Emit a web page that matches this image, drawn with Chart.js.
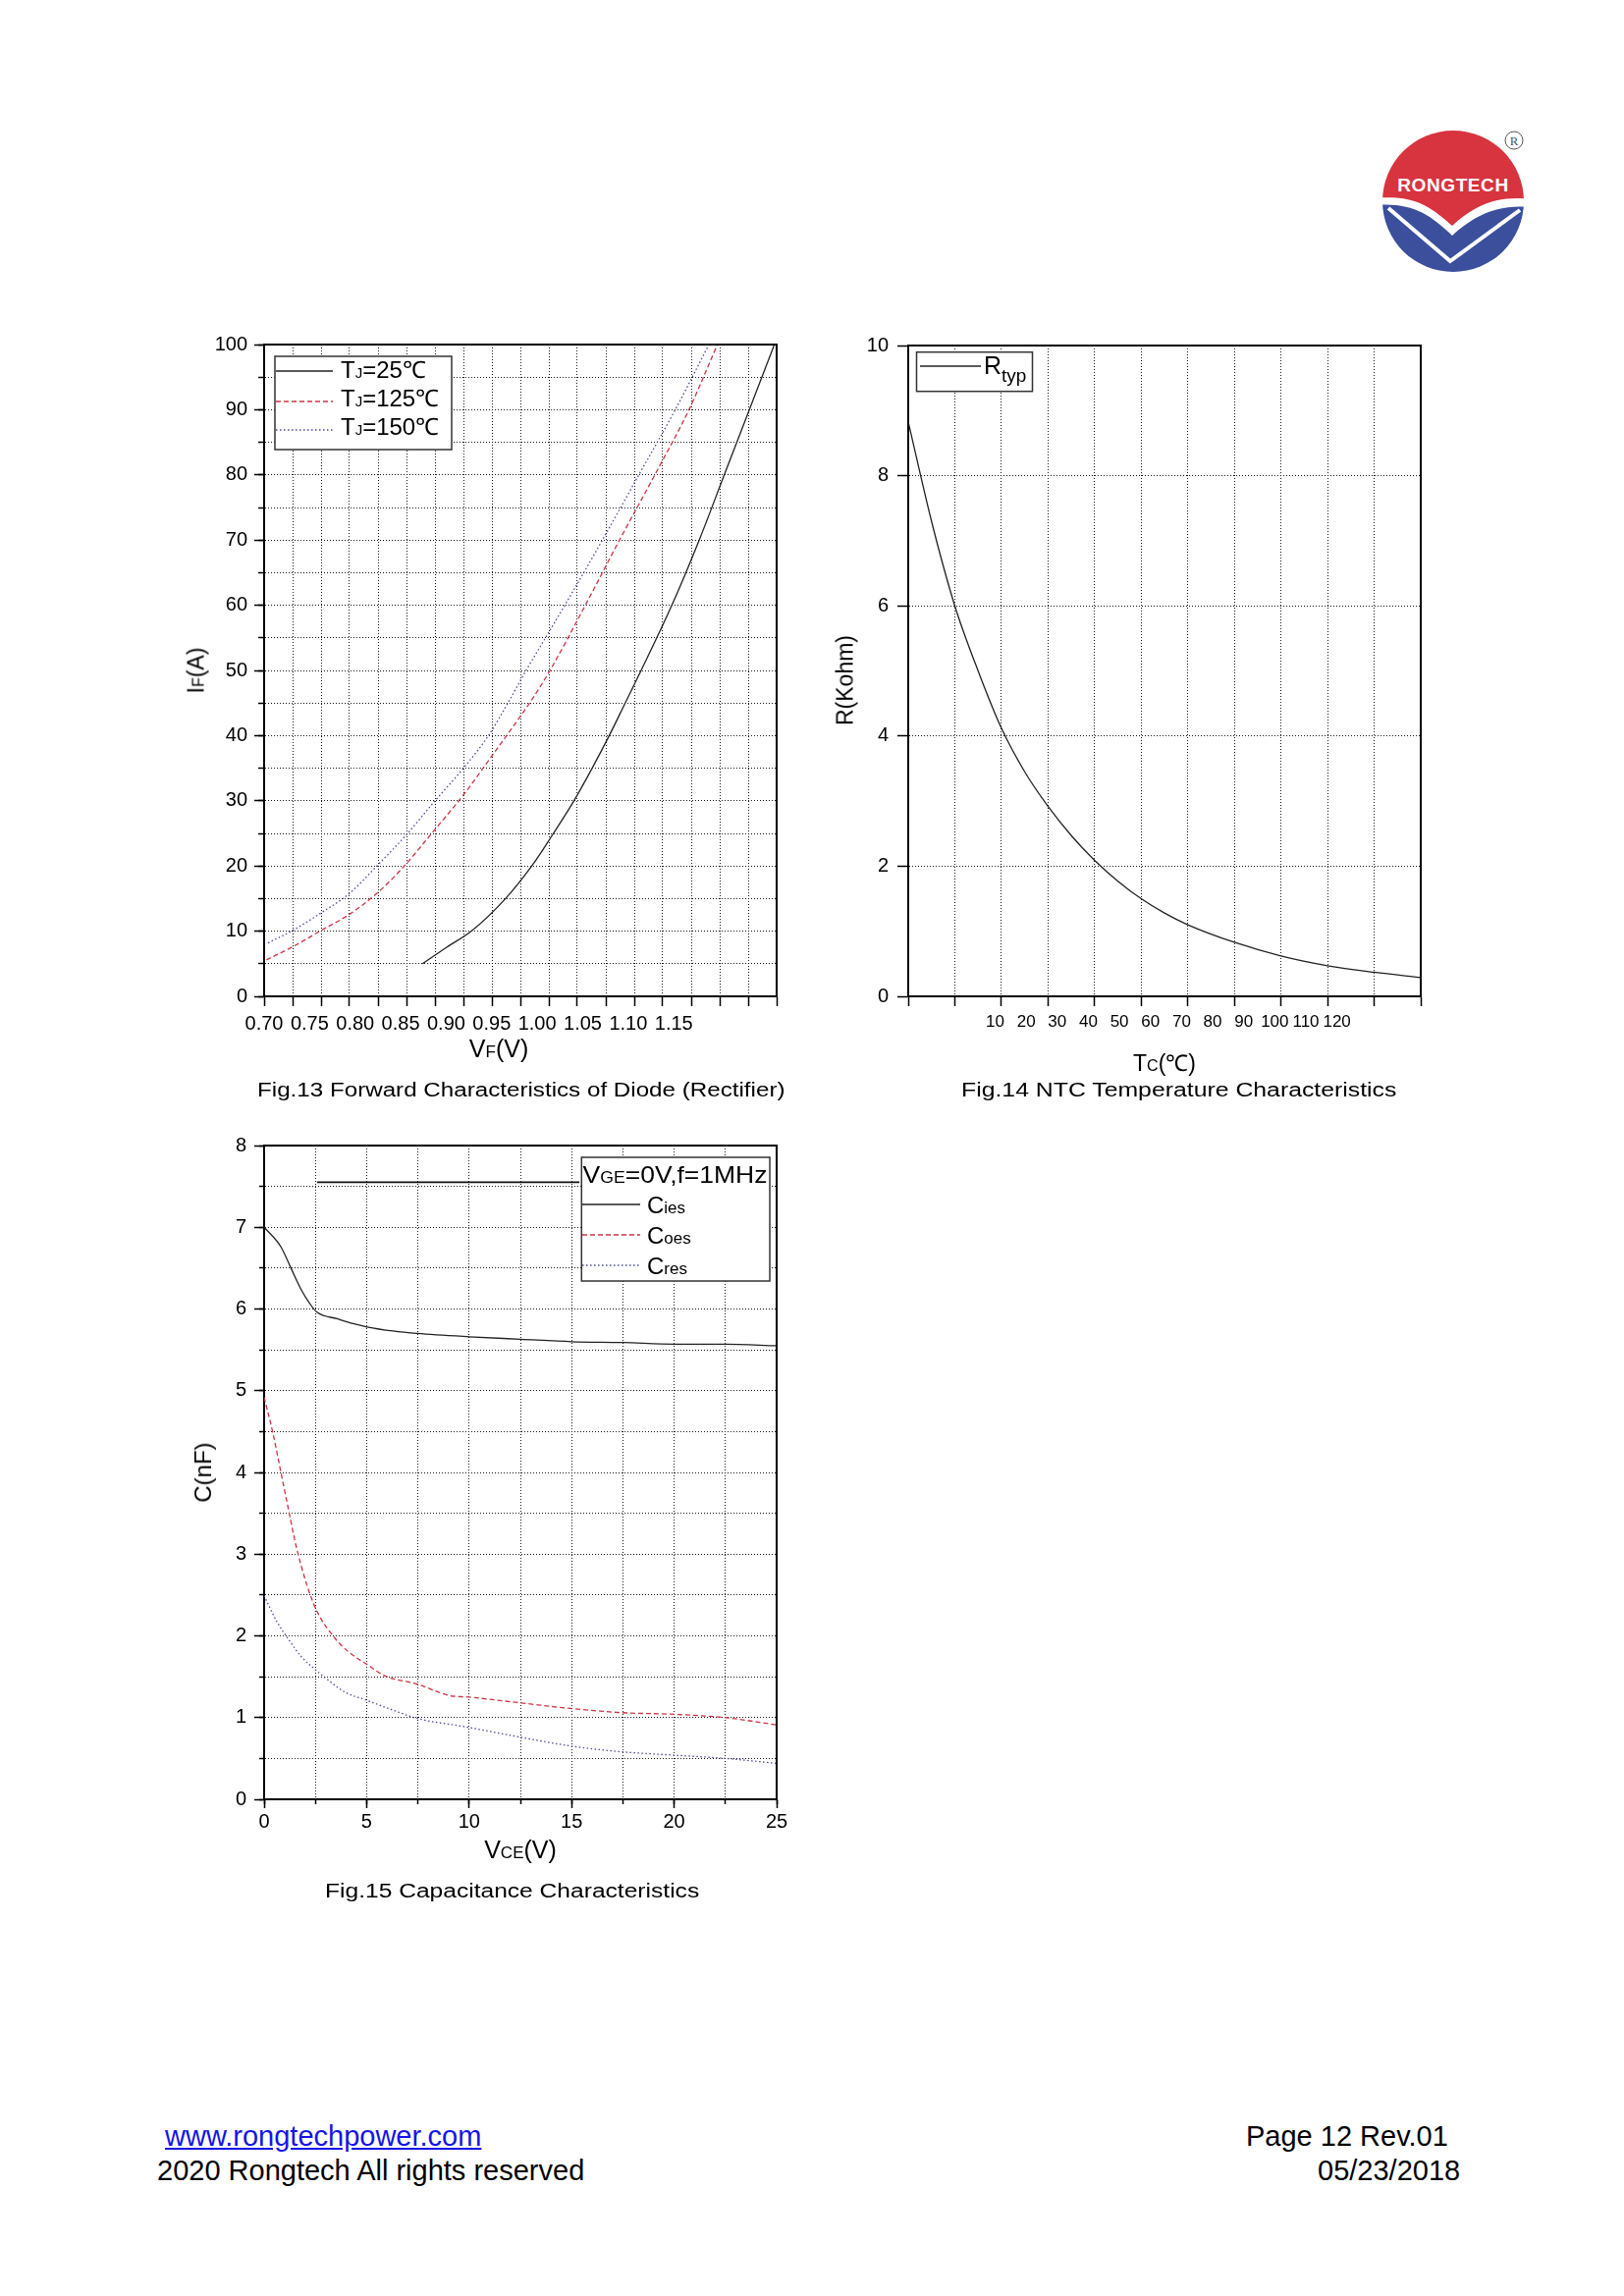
<!DOCTYPE html>
<html>
<head>
<meta charset="utf-8">
<script src="https://cdn.jsdelivr.net/npm/chart.js@4.4.1/dist/chart.umd.min.js"></script>
<style>
  html, body { margin: 0; padding: 0; background: #fff; }
  body { position: relative; width: 1654px; height: 2339px; overflow: hidden;
         font-family: 'Liberation Sans', Arial, Helvetica, sans-serif; color: #000; }
  canvas { position: absolute; }
  .t { position: absolute; line-height: 1; white-space: nowrap; }
  .fit { transform-origin: 0 0; }
  .c { transform: translateX(-50%); }
  .r { transform: translate(-50%, -50%) rotate(-90deg); }
  a { color: #1414e6; }
</style>
</head>
<body>

<svg style="position:absolute;left:1390px;top:120px" width="180" height="170" viewBox="1390 120 180 170">
  <defs><clipPath id="lc"><circle cx="1480" cy="205" r="72"/></clipPath></defs>
  <g clip-path="url(#lc)">
    <rect x="1400" y="125" width="170" height="160" fill="#fff"/>
    <path d="M1400,125 H1560 V203 C1530,199 1505,206 1479,230 C1456,209 1438,198 1400,202 Z" fill="#d7343f"/>
    <path d="M1400,209 C1438,206 1456,218 1479,240 C1505,216 1530,208 1560,211 V290 H1400 Z" fill="#3b4f9d"/>
    <path d="M1414,212 L1477,266 L1548,214" fill="none" stroke="#fff" stroke-width="4"/>
  </g>
  <text x="1480" y="195" text-anchor="middle" font-family="Liberation Sans, Arial" font-weight="bold"
        font-size="19" letter-spacing="0.6" fill="#fff">RONGTECH</text>
  <circle cx="1542" cy="143" r="9" fill="none" stroke="#555" stroke-width="1"/>
  <text x="1542" y="148" text-anchor="middle" font-family="Liberation Serif, serif" font-size="13" fill="#555">R</text>
</svg>

<canvas id="fig13" width="700" height="780" style="left:130px;top:330px"></canvas>
<canvas id="fig14" width="660" height="780" style="left:840px;top:330px"></canvas>
<canvas id="fig15" width="700" height="780" style="left:130px;top:1145px"></canvas>

<!-- axis titles -->
<div class="t r" style="left:200px;top:683px;font-size:23px">I<span style="font-size:16px">F</span>(A)</div>
<div class="t c" style="left:508px;top:1056px;font-size:25px">V<span style="font-size:17px">F</span>(V)</div>
<div class="t r" style="left:861px;top:693px;font-size:23px">R(Kohm)</div>
<div class="t c" style="left:1186px;top:1072px;font-size:23px">T<span style="font-size:16px">C</span>(℃)</div>
<div class="t r" style="left:207px;top:1500px;font-size:24px">C(nF)</div>
<div class="t c" style="left:530px;top:1872px;font-size:25px">V<span style="font-size:17px">CE</span>(V)</div>

<!-- captions -->
<div class="t fit" data-w="538" style="left:262px;top:1100px;font-size:20px">Fig.13 Forward Characteristics of Diode (Rectifier)</div>
<div class="t fit" data-w="444" style="left:979px;top:1100px;font-size:20px">Fig.14 NTC Temperature Characteristics</div>
<div class="t fit" data-w="381" style="left:331px;top:1916px;font-size:20px">Fig.15 Capacitance Characteristics</div>

<!-- footer -->
<div class="t" style="left:168px;top:2162px;font-size:29px"><a href="http://www.rongtechpower.com">www.rongtechpower.com</a></div>
<div class="t" style="left:160px;top:2197px;font-size:29px">2020 Rongtech All rights reserved</div>
<div class="t" style="left:1269px;top:2162px;font-size:29px">Page 12 Rev.01</div>
<div class="t" style="left:1342px;top:2197px;font-size:29px">05/23/2018</div>

<script>
// ---- Fig.13 forward characteristics of diode ----
const vf25  = [0.839, 0.860, 0.882, 0.912, 0.935, 0.954, 0.972, 0.988, 1.003, 1.017, 1.031, 1.058, 1.082, 1.104, 1.126, 1.148];
const if25  = [5, 7.5, 10, 15, 20, 25, 30, 35, 40, 45, 50, 60, 70, 80, 90, 100];
const vf125 = [0.702, 0.725, 0.750, 0.775, 0.799, 0.822, 0.849, 0.875, 0.898, 0.917, 0.935, 0.951, 0.982, 1.012, 1.043, 1.073, 1.098];
const if125 = [5.6, 7.6, 10.1, 12.6, 15.8, 19.8, 25.4, 30.9, 36.4, 41.0, 45.5, 50, 60, 70, 80, 90, 100];
const vf150 = [0.7035, 0.725, 0.750, 0.775, 0.799, 0.826, 0.850, 0.875, 0.897, 0.914, 0.930, 0.947, 0.964, 0.997, 1.029, 1.061, 1.0905];
const if150 = [8.2, 10.1, 12.8, 15.8, 20, 25, 30, 35, 40, 45, 50, 55, 60, 70, 80, 90, 100];
const vfLabels = ['0.70', '0.75', '0.80', '0.85', '0.90', '0.95', '1.00', '1.05', '1.10', '1.15'];

// ---- Fig.14 NTC ----
const tc   = [10, 15, 20, 25, 30, 35, 40, 45, 50, 55, 60, 65, 70, 80, 90, 100, 110, 120];
const rTyp = [8.83, 7.3, 6.0, 5.0, 4.12, 3.45, 2.92, 2.47, 2.09, 1.77, 1.50, 1.28, 1.10, 0.83, 0.62, 0.47, 0.37, 0.29];
const tcLabels = ['10', '20', '30', '40', '50', '60', '70', '80', '90', '100', '110', '120'];

// ---- Fig.15 capacitance ----
const vCies = [0, 0.82, 1.31, 1.8, 2.19, 2.58, 3.56, 4.34, 5.02, 6.29, 7.47, 10, 12.5, 15, 17.5, 20, 22.5, 25];
const cies  = [7.0, 6.76, 6.5, 6.24, 6.08, 5.96, 5.88, 5.82, 5.78, 5.73, 5.70, 5.66, 5.63, 5.60, 5.59, 5.57, 5.57, 5.55];
const vCoes = [0, 0.43, 0.82, 1.21, 1.54, 2.09, 2.58, 3.46, 4.14, 5.02, 5.9, 7.47, 9.03, 10, 12.5, 15, 17.5, 20, 22.5, 25];
const coes  = [4.92, 4.48, 4.0, 3.52, 3.12, 2.62, 2.30, 1.97, 1.80, 1.65, 1.51, 1.41, 1.27, 1.25, 1.18, 1.11, 1.06, 1.04, 1.0, 0.91];
const vCres = [0, 0.63, 1.21, 1.8, 2.48, 3.17, 3.95, 5.02, 6.29, 7.47, 10, 12.5, 15, 17.5, 20, 22.5, 25];
const cres  = [2.49, 2.17, 1.95, 1.75, 1.59, 1.45, 1.31, 1.21, 1.09, 0.99, 0.88, 0.76, 0.65, 0.58, 0.54, 0.5, 0.44];
// stray rule left of the legend box in the original
const ruleV = [2.58, 15.38];
const ruleC = [7.55, 7.55];

const FONT = "'Liberation Sans', Arial, Helvetica, sans-serif";
Chart.defaults.font.family = FONT;
Chart.defaults.color = '#000';

const GRID = '#1a1a1a';
const DOT = [1, 2];
const BLACK = '#222';
const RED = '#cc3444';
const BLUE = '#4a4a9c';

function pts(xs, ys) {
  return xs.map((x, i) => ({ x: x, y: ys[i] }));
}

function curve(label, xs, ys, color, dash) {
  return {
    label: label, data: pts(xs, ys), showLine: true,
    borderColor: color, borderWidth: 1.3, borderDash: dash || [],
    pointRadius: 0, cubicInterpolationMode: 'monotone',
    xAxisID: 'x', yAxisID: 'y'
  };
}

// top and right edges of the plot box
const frame = {
  id: 'frame',
  afterDatasetsDraw(chart) {
    const { ctx, chartArea: a } = chart;
    ctx.save();
    ctx.strokeStyle = '#000';
    ctx.lineWidth = 2;
    ctx.beginPath();
    ctx.moveTo(a.left, a.top);
    ctx.lineTo(a.right, a.top);
    ctx.lineTo(a.right, a.bottom);
    ctx.stroke();
    ctx.restore();
  }
};

// boxed legend inside the plot, positions relative to chartArea
function boxLegend(spec) {
  return {
    id: 'boxLegend',
    afterDatasetsDraw(chart) {
      const { ctx, chartArea: a } = chart;
      const [bx, by, bw, bh] = spec.box;
      ctx.save();
      ctx.fillStyle = '#fff';
      ctx.fillRect(a.left + bx, a.top + by, bw, bh);
      ctx.strokeStyle = '#333';
      ctx.lineWidth = 1.5;
      ctx.strokeRect(a.left + bx, a.top + by, bw, bh);
      spec.rows.forEach(row => {
        if (row.ds !== undefined) {
          const ds = chart.data.datasets[row.ds];
          ctx.save();
          ctx.strokeStyle = ds.borderColor;
          ctx.lineWidth = ds.borderWidth;
          ctx.setLineDash(ds.borderDash || []);
          ctx.beginPath();
          ctx.moveTo(a.left + row.line[0], a.top + row.ly);
          ctx.lineTo(a.left + row.line[1], a.top + row.ly);
          ctx.stroke();
          ctx.restore();
        }
        let w = 0;
        row.parts.forEach(p => { ctx.font = p[1] + 'px ' + FONT; w += ctx.measureText(p[0]).width; });
        const sx = row.w ? row.w / w : 1;
        ctx.save();
        ctx.translate(a.left + row.tx, a.top + row.base);
        ctx.scale(sx, 1);
        ctx.fillStyle = '#000';
        ctx.textBaseline = 'alphabetic';
        let x = 0;
        row.parts.forEach(p => {
          ctx.font = p[1] + 'px ' + FONT;
          ctx.fillText(p[0], x, p[2] || 0);
          x += ctx.measureText(p[0]).width;
        });
        ctx.restore();
      });
      ctx.restore();
    }
  };
}

function gridOpts(extra) {
  return Object.assign({ color: GRID, lineWidth: 1, tickColor: '#000', tickWidth: 1.5 }, extra);
}
const axisBorder = { color: '#000', width: 2, dash: DOT };
const minorTicks = (len) => ({
  grid: { drawOnChartArea: false, tickLength: len, tickColor: '#000', tickWidth: 1.5 },
  border: { display: false },
  ticks: { display: false }
});
const base = {
  responsive: false,
  animation: false,
  events: [],
  plugins: { legend: { display: false }, tooltip: { enabled: false } }
};

// ---------- Fig.13 ----------
new Chart(document.getElementById('fig13'), {
  type: 'scatter',
  data: {
    datasets: [
      curve('TJ=25℃', vf25, if25, BLACK),
      curve('TJ=125℃', vf125, if125, RED, [5, 3]),
      curve('TJ=150℃', vf150, if150, BLUE, [1.5, 2.5])
    ]
  },
  options: Object.assign({}, base, {
    layout: { padding: { top: 21, right: 39, bottom: 5, left: 0 } },
    scales: {
      x: {
        type: 'linear', min: 0.70, max: 1.15, weight: 0,
        ticks: { stepSize: 0.025, display: false },
        grid: gridOpts({ tickLength: 10 }), border: axisBorder,
        afterFit: s => { s.height = 10; }
      },
      xl: {
        type: 'linear', position: 'bottom', min: 0, max: 11.26, weight: 1,
        grid: { display: false, drawTicks: false }, border: { display: false },
        ticks: { stepSize: 1, autoSkip: false, maxRotation: 0, padding: 6, font: { size: 20 },
                 callback: v => (Number.isInteger(v) && vfLabels[v]) || '' },
        afterFit: s => { s.height = 80; }
      },
      y: {
        type: 'linear', min: 0, max: 100, weight: 1,
        ticks: { stepSize: 5, padding: 7, font: { size: 20 }, callback: v => (v % 10 === 0 ? v : '') },
        grid: gridOpts({ tickLength: 10, tickColor: c => (c.tick && c.tick.value % 10 === 0 ? '#000' : 'rgba(0,0,0,0)') }),
        border: axisBorder,
        afterFit: s => { s.width = 139; }
      },
      yMinor: Object.assign({ type: 'linear', position: 'left', min: 0, max: 100, weight: 0,
                              afterFit: s => { s.width = 0; } }, minorTicks(6), { ticks: { display: false, stepSize: 5 } })
    }
  }),
  plugins: [frame, boxLegend({
    box: [11, 12, 180, 95],
    rows: [
      { ds: 0, line: [12, 70], ly: 27, tx: 78, base: 34, parts: [['T', 24], ['J', 15], ['=25℃', 24]] },
      { ds: 1, line: [12, 70], ly: 58, tx: 78, base: 63, parts: [['T', 24], ['J', 15], ['=125℃', 24]] },
      { ds: 2, line: [12, 70], ly: 87, tx: 78, base: 92, parts: [['T', 24], ['J', 15], ['=150℃', 24]] }
    ]
  })]
});

// ---------- Fig.14 ----------
new Chart(document.getElementById('fig14'), {
  type: 'scatter',
  data: { datasets: [curve('Rtyp', tc, rTyp, BLACK)] },
  options: Object.assign({}, base, {
    layout: { padding: { top: 22, right: 53, bottom: 5, left: 0 } },
    scales: {
      x: {
        type: 'linear', min: 10, max: 120, weight: 0,
        ticks: { stepSize: 10, display: false },
        grid: gridOpts({ tickLength: 10 }), border: axisBorder,
        afterFit: s => { s.height = 10; }
      },
      xl: {
        type: 'linear', position: 'bottom', min: -2.796, max: 13.697, weight: 1,
        grid: { display: false, drawTicks: false }, border: { display: false },
        ticks: { stepSize: 1, autoSkip: false, maxRotation: 0, padding: 6, font: { size: 17 },
                 callback: v => (Number.isInteger(v) && tcLabels[v]) || '' },
        afterFit: s => { s.height = 80; }
      },
      y: {
        type: 'linear', min: 0, max: 10,
        ticks: { stepSize: 2, padding: 9, font: { size: 20 } },
        grid: gridOpts({ tickLength: 11 }), border: axisBorder,
        afterFit: s => { s.width = 85; }
      }
    }
  }),
  plugins: [frame, boxLegend({
    box: [8.5, 6.7, 118, 40],
    rows: [{ ds: 0, line: [12, 74], ly: 21, tx: 77, base: 29, parts: [['R', 25], ['typ', 19, 8]] }]
  })]
});

// ---------- Fig.15 ----------
const rule = curve('', ruleV, ruleC, '#111');
rule.borderWidth = 1.8;
new Chart(document.getElementById('fig15'), {
  type: 'scatter',
  data: {
    datasets: [
      curve('Cies', vCies, cies, BLACK),
      curve('Coes', vCoes, coes, RED, [5, 3]),
      curve('Cres', vCres, cres, BLUE, [1.5, 2.5]),
      rule
    ]
  },
  options: Object.assign({}, base, {
    layout: { padding: { top: 22, right: 39, bottom: 12, left: 0 } },
    scales: {
      x: {
        type: 'linear', min: 0, max: 25, weight: 1,
        ticks: { stepSize: 2.5, padding: 2, font: { size: 20 }, autoSkip: false, maxRotation: 0,
                 callback: v => (v % 5 === 0 ? v : '') },
        grid: gridOpts({ tickLength: 9, tickColor: c => (c.tick && c.tick.value % 5 === 0 ? '#000' : 'rgba(0,0,0,0)') }),
        border: axisBorder,
        afterFit: s => { s.height = 80; }
      },
      xMinor: Object.assign({ type: 'linear', position: 'bottom', min: 0, max: 25, weight: 0,
                              afterFit: s => { s.height = 0; } }, minorTicks(5), { ticks: { display: false, stepSize: 2.5 } }),
      y: {
        type: 'linear', min: 0, max: 8, weight: 1,
        ticks: { stepSize: 0.5, padding: 8, font: { size: 20 }, callback: v => (Number.isInteger(v) ? v : '') },
        grid: gridOpts({ tickLength: 10, tickColor: c => (c.tick && Number.isInteger(c.tick.value) ? '#000' : 'rgba(0,0,0,0)') }),
        border: axisBorder,
        afterFit: s => { s.width = 139; }
      },
      yMinor: Object.assign({ type: 'linear', position: 'left', min: 0, max: 8, weight: 0,
                              afterFit: s => { s.width = 0; } }, minorTicks(5), { ticks: { display: false, stepSize: 0.5 } })
    }
  }),
  plugins: [frame, boxLegend({
    box: [323.3, 12, 191.7, 126],
    rows: [
      { tx: 324.5, base: 38, w: 188, parts: [['V', 24], ['GE', 16], ['=0V,f=1MHz', 24]] },
      { ds: 0, line: [324, 383], ly: 60, tx: 390, base: 69, parts: [['C', 24], ['ies', 17]] },
      { ds: 1, line: [324, 383], ly: 91, tx: 390, base: 100, parts: [['C', 24], ['oes', 17]] },
      { ds: 2, line: [324, 383], ly: 122, tx: 390, base: 131, parts: [['C', 24], ['res', 17]] }
    ]
  })]
});

// stretch captions to the widths of the original
document.querySelectorAll('.fit').forEach(el => {
  el.style.transform = 'scaleX(' + (+el.dataset.w / el.offsetWidth) + ')';
});
</script>
</body>
</html>
